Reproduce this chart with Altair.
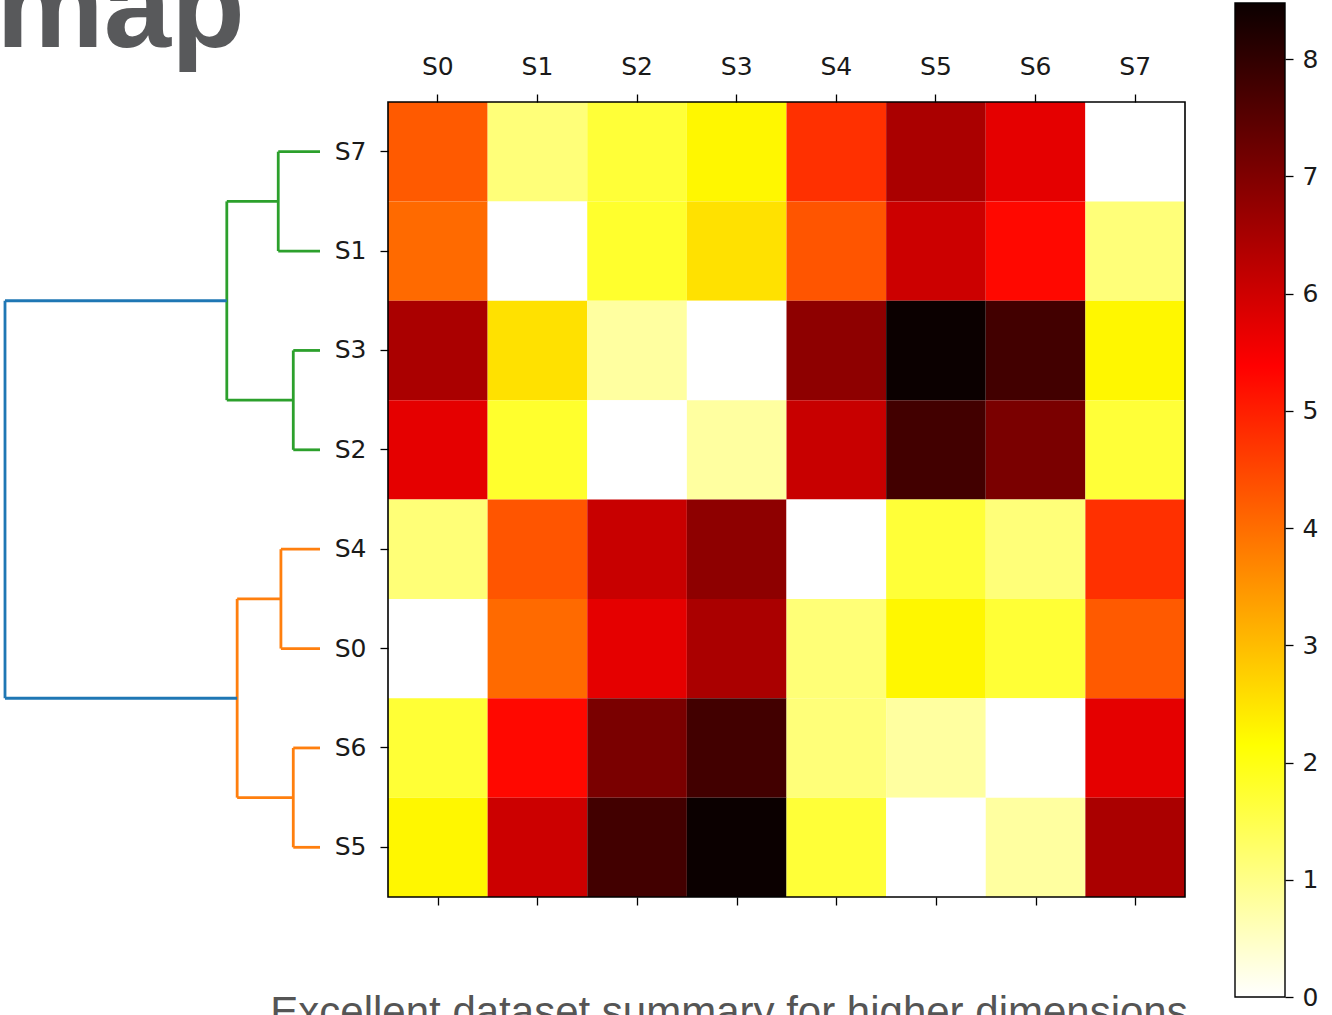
import altair as alt
import pandas as pd

# ---------------- data ----------------
labels = ["S0", "S1", "S2", "S3", "S4", "S5", "S6", "S7"]
leaf_order = ["S7", "S1", "S3", "S2", "S4", "S0", "S6", "S5"]

# symmetric distance matrix, rows/cols S0..S7
dist = [
    [0.00, 4.04, 5.72, 6.46, 1.15, 2.26, 1.70, 4.24],
    [4.04, 0.00, 1.77, 2.54, 4.31, 6.03, 5.28, 1.13],
    [5.72, 1.77, 0.00, 0.80, 6.08, 7.78, 7.07, 1.68],
    [6.46, 2.54, 0.80, 0.00, 6.82, 8.48, 7.78, 2.26],
    [1.15, 4.31, 6.08, 6.82, 0.00, 1.68, 1.13, 4.77],
    [2.26, 6.03, 7.78, 8.48, 1.68, 0.00, 0.80, 6.46],
    [1.70, 5.28, 7.07, 7.78, 1.13, 0.80, 0.00, 5.72],
    [4.24, 1.13, 1.68, 2.26, 4.77, 6.46, 5.72, 0.00],
]
vmax = 8.48
cbar_ticks = [0, 1, 2, 3, 4, 5, 6, 7, 8]

# dendrogram links (children may be leaves or earlier links L0..)
link_left = ["S7", "S3", "S4", "S6", "L0", "L2", "L4"]
link_right = ["S1", "S2", "S0", "S5", "L1", "L3", "L5"]
link_height = [1.25, 0.80, 1.17, 0.80, 2.79, 2.48, 9.43]
link_color = ["#2ca02c", "#2ca02c", "#ff7f0e", "#ff7f0e", "#2ca02c", "#ff7f0e", "#1f77b4"]

title_text = "Heatmap"
subtitle_text = "Excellent dataset summary for higher dimensions"

# ---------------- layout ----------------
W, H = 797, 795
PAD = {"left": 388, "top": 102, "right": 147, "bottom": 118}
FONT = "DejaVu Sans"

# ---------------- tables ----------------
heat_rows = []
for r in leaf_order:
    for c in labels:
        heat_rows.append({"row": r, "col": c, "value": dist[labels.index(r)][labels.index(c)]})
heat_df = pd.DataFrame(heat_rows)

pos = {leaf: i for i, leaf in enumerate(leaf_order)}
hgt = {leaf: 0.0 for leaf in leaf_order}
segs = []
for k, (a, b, h, col) in enumerate(zip(link_left, link_right, link_height, link_color)):
    ya, yb = pos[a], pos[b]
    segs.append({"h1": hgt[a], "h2": h, "y1": ya, "y2": ya, "color": col})
    segs.append({"h1": h, "h2": h, "y1": ya, "y2": yb, "color": col})
    segs.append({"h1": hgt[b], "h2": h, "y1": yb, "y2": yb, "color": col})
    pos[f"L{k}"] = (ya + yb) / 2
    hgt[f"L{k}"] = h
dendro_df = pd.DataFrame(segs)

stops_t = [0.0, 0.253968, 0.634921, 1.0]
stops_c = ["#ffffff", "#ffff00", "#ff0000", "#0b0000"]

axis_common = dict(
    title=None, grid=False, domain=False, tickColor="black", tickWidth=1.3,
    labelColor="#1a1a1a", labelFont=FONT, labelFontSize=25, tickSize=8,
)

heat = alt.Chart(heat_df).mark_rect().encode(
    x=alt.X("col:N", sort=labels,
            scale=alt.Scale(domain=labels, paddingInner=0, paddingOuter=0),
            axis=alt.Axis(orient="top", labelAngle=0, labelPadding=15, **axis_common)),
    y=alt.Y("row:N", sort=leaf_order,
            scale=alt.Scale(domain=leaf_order, paddingInner=0, paddingOuter=0),
            axis=alt.Axis(orient="left", labelPadding=14, **axis_common)),
    color=alt.Color("value:Q",
                    scale=alt.Scale(domain=[vmax * t for t in stops_t], range=stops_c,
                                    interpolate="rgb"),
                    legend=None),
)

bottom_ticks = alt.Chart(pd.DataFrame({"col": labels})).mark_point(opacity=0).encode(
    x=alt.X("col:N", sort=labels,
            scale=alt.Scale(domain=labels, paddingInner=0, paddingOuter=0),
            axis=alt.Axis(orient="bottom", labels=False, **axis_common)),
    y=alt.value(0),
)

frame = alt.Chart(pd.DataFrame({"a": [0]})).mark_rect(
    filled=False, stroke="black", strokeWidth=1.6
).encode(x=alt.value(0), x2=alt.value(W), y=alt.value(0), y2=alt.value(H))

dendro = alt.Chart(dendro_df).mark_rule(strokeWidth=2.8).encode(
    x=alt.X("h1:Q", scale=alt.Scale(domain=[0, link_height[-1]], range=[-68, -383],
                                    nice=False, zero=False), axis=None),
    x2="h2:Q",
    y=alt.Y("y1:Q", scale=alt.Scale(domain=[-0.5, 7.5], range=[0, H], nice=False, zero=False),
            axis=None),
    y2="y2:Q",
    color=alt.Color("color:N", scale=None),
)

grad = alt.LinearGradient(
    gradient="linear",
    stops=[alt.GradientStop(color=c, offset=t) for t, c in zip(stops_t, stops_c)],
    x1=0, x2=0, y1=1, y2=0,
)
cbar = alt.Chart(pd.DataFrame({"lo": [0.0], "hi": [vmax]})).mark_rect(
    fill=grad, stroke="black", strokeWidth=1.4
).encode(
    x=alt.value(847), x2=alt.value(897),
    y=alt.Y("lo:Q", scale=alt.Scale(domain=[0, vmax], range=[895, -99], nice=False, zero=False),
            axis=alt.Axis(orient="right", offset=100, values=cbar_ticks, labelPadding=9,
                          **axis_common)),
    y2="hi:Q",
)

title = alt.Chart(pd.DataFrame({"t": [title_text]})).mark_text(
    align="right", baseline="alphabetic", font="Liberation Sans", fontWeight="bold",
    fontSize=121, color="#58595b"
).encode(text="t:N", x=alt.value(-143), y=alt.value(-55))

subtitle = alt.Chart(pd.DataFrame({"t": [subtitle_text]})).mark_text(
    align="center", baseline="alphabetic", font="Liberation Sans",
    fontSize=42, color="#555555"
).encode(text="t:N", x=alt.value(341), y=alt.value(924))

chart = alt.layer(heat, bottom_ticks, frame, dendro, cbar, title, subtitle).resolve_scale(
    x="independent", y="independent", color="independent"
).resolve_axis(x="independent", y="independent").properties(
    width=W, height=H, padding=PAD,
    autosize=alt.AutoSizeParams(type="none"),
).configure_view(stroke="transparent")

chart.save("out.html", embed_options={"renderer": "svg", "actions": False})
